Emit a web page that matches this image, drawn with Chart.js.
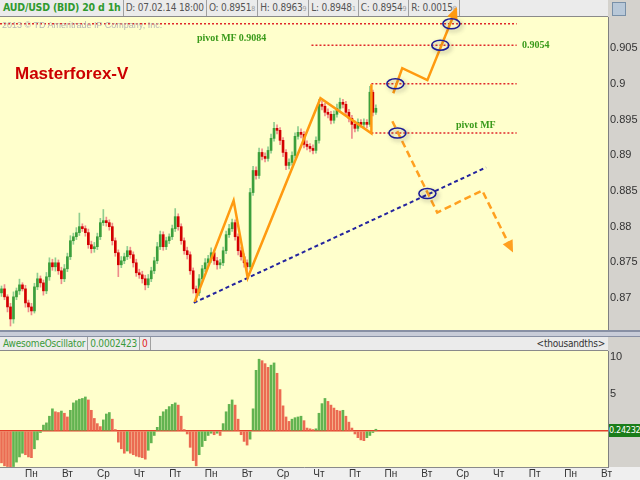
<!DOCTYPE html>
<html>
<head>
<meta charset="utf-8">
<script src="https://cdn.jsdelivr.net/npm/chart.js@4.4.1/dist/chart.umd.min.js"></script>
<style>
  body { margin: 0; width: 640px; height: 480px; overflow: hidden; background: #d4d2cd; position: relative; font-family: Arial, "Liberation Sans", sans-serif; }
  .abs { position: absolute; }
  .bar { background: #ebebeb; border-bottom: 1px solid #8a8a8a; display: flex; font-family: "DejaVu Sans Condensed", Arial, sans-serif; font-size: 10px; color: #555; white-space: nowrap; box-sizing: border-box; letter-spacing: -0.2px; }
  .bar span.cell { border-right: 1px solid #a0a0a0; padding: 0 2px; line-height: 15px; box-sizing: border-box; flex-shrink: 0; }
  .sub { font-size: 7px; color: #999; }
  .pv { font-family: "Liberation Serif", "DejaVu Serif", serif; font-weight: bold; font-size: 10px; color: #3a9a1a; white-space: nowrap; }
</style>
</head>
<body>
<!-- шапка графика -->
<div class="abs bar" style="left:0;top:0;width:608px;height:17px;z-index:1">
  <span class="cell" style="color:#2f9a2f;font-weight:bold;min-width:95px;font-size:10.5px;padding-left:3px">AUD/USD (BID) 20 d 1h</span>
  <span class="cell" style="min-width:67px">D: 07.02.14 18:00</span>
  <span class="cell" style="min-width:45px">O: 0.8951<span class="sub">8</span></span>
  <span class="cell" style="min-width:45px">H: 0.8963<span class="sub">9</span></span>
  <span class="cell" style="min-width:43px">L: 0.8948<span class="sub">1</span></span>
  <span class="cell" style="min-width:42px">C: 0.8954<span class="sub">9</span></span>
  <span class="cell" style="min-width:45px">R: 0.0015<span class="sub">8</span></span>
</div>
<div class="abs" style="left:612px;top:2px;width:12px;height:12px;background:#b8c8d8;border:1px solid #7890a8"></div>

<div class="abs" style="left:0;top:0;width:640px;height:330px;z-index:2"><canvas id="priceChart" width="640" height="330"></canvas></div>

<div class="abs" style="left:0;top:330px;width:640px;height:4px;background:#c8ccd8;border-top:2px solid #8890a4;border-bottom:1px solid #8890a4"></div>

<div class="abs bar" style="left:0;top:337px;width:608px;height:14px;z-index:1">
  <span class="cell" style="color:#3a9a3a;line-height:13px;padding-left:3px">AwesomeOscillator</span>
  <span class="cell" style="color:#3a9a3a;line-height:13px">0.0002423</span>
  <span class="cell" style="color:#e02020;line-height:13px">0</span>
  <span style="margin-left:auto;padding-right:3px;line-height:13px;color:#333">&lt;thousandths&gt;</span>
</div>
<div class="abs" style="left:0;top:467px;width:640px;height:13px;background:#efefef"></div>
<div class="abs" style="left:0;top:351px;width:640px;height:129px;z-index:2"><canvas id="aoChart" width="640" height="129"></canvas></div>
<div class="abs" style="left:609px;top:424px;width:31px;height:13px;background:#1a7d1a;color:#fff;font-family:'DejaVu Sans Condensed',Arial,sans-serif;font-size:9px;letter-spacing:-0.3px;line-height:13px;z-index:3;overflow:hidden;white-space:nowrap">0.24232</div>

<!-- подписи -->
<div class="abs" style="left:2px;top:20px;font-size:9px;color:#b5b5b5;z-index:3;white-space:nowrap">2013 © TD Ameritrade IP Company, Inc.</div>
<div class="abs pv" style="left:197px;top:32px;z-index:3">pivot MF 0.9084</div>
<div class="abs pv" style="left:522px;top:39px;z-index:3">0.9054</div>
<div class="abs pv" style="left:456px;top:119px;z-index:3">pivot MF</div>
<div class="abs" style="left:15px;top:64px;font-size:17px;font-weight:bold;color:#cc0000;z-index:3;white-space:nowrap">Masterforex-V</div>

<script>
// свечи 2ч (индекс = слот по оси X)
const opens = [
0.87073, 0.87129, 0.87017, 0.86876, 0.86708, 0.87017, 0.87101, 0.87185, 0.87129, 0.86932,
0.86876, 0.86820, 0.87157, 0.87270, 0.87213, 0.87101, 0.87298, 0.87494, 0.87438, 0.87494,
0.87382, 0.87270, 0.87410, 0.87579, 0.87803, 0.87859, 0.87916, 0.88000, 0.87972, 0.87916,
0.87747, 0.87691, 0.87719, 0.87859, 0.88056, 0.88084, 0.88056, 0.88000, 0.87803, 0.87635,
0.87466, 0.87522, 0.87579, 0.87663, 0.87607, 0.87494, 0.87354, 0.87326, 0.87270, 0.87185,
0.87270, 0.87382, 0.87522, 0.87719, 0.87888, 0.87719, 0.87803, 0.87859, 0.87972, 0.88140,
0.88000, 0.87803, 0.87663, 0.87607, 0.87382, 0.87129, 0.87073, 0.87270, 0.87410, 0.87494,
0.87550, 0.87635, 0.87522, 0.87466, 0.87494, 0.87663, 0.87888, 0.87972, 0.88056, 0.87859,
0.87663, 0.87579, 0.87494, 0.87438, 0.88477, 0.88786, 0.88716, 0.89039, 0.88983, 0.88955,
0.89067, 0.89236, 0.89376, 0.89348, 0.89208, 0.89039, 0.88857, 0.88899, 0.88997, 0.89264,
0.89320, 0.89292, 0.89152, 0.89123, 0.89095, 0.89067, 0.89208, 0.89713, 0.89685, 0.89601,
0.89573, 0.89489, 0.89573, 0.89657, 0.89741, 0.89713, 0.89601, 0.89517, 0.89432, 0.89376,
0.89460, 0.89432, 0.89460, 0.89432, 0.89882, 0.89601
];
const highs = [
0.87169, 0.87189, 0.87047, 0.86926, 0.87087, 0.87141, 0.87265, 0.87215, 0.87179, 0.86972,
0.86926, 0.87207, 0.87350, 0.87310, 0.87253, 0.87358, 0.87564, 0.87544, 0.87564, 0.87534,
0.87432, 0.87470, 0.87629, 0.87873, 0.87909, 0.87986, 0.88190, 0.88040, 0.88012, 0.87966,
0.87797, 0.87779, 0.87909, 0.88116, 0.88240, 0.88134, 0.88096, 0.88050, 0.87843, 0.87675,
0.87582, 0.87629, 0.87723, 0.87713, 0.87647, 0.87544, 0.87404, 0.87376, 0.87320, 0.87330,
0.87432, 0.87572, 0.87779, 0.87938, 0.87928, 0.87853, 0.87899, 0.88022, 0.88253, 0.88180,
0.88040, 0.87843, 0.87713, 0.87647, 0.87422, 0.87169, 0.87330, 0.87460, 0.87554, 0.87600,
0.87705, 0.87675, 0.87572, 0.87544, 0.87713, 0.87938, 0.88032, 0.88106, 0.88096, 0.87899,
0.87713, 0.87619, 0.87534, 0.88537, 0.88846, 0.88836, 0.89099, 0.89089, 0.89033, 0.89117,
0.89296, 0.89460, 0.89426, 0.89388, 0.89248, 0.89079, 0.88949, 0.89047, 0.89314, 0.89400,
0.89370, 0.89332, 0.89202, 0.89163, 0.89145, 0.89258, 0.89783, 0.89763, 0.89725, 0.89651,
0.89613, 0.89623, 0.89717, 0.89800, 0.89781, 0.89753, 0.89641, 0.89557, 0.89482, 0.89510,
0.89500, 0.89510, 0.89500, 0.89966, 0.89912, 0.89707
];
const lows = [
0.87023, 0.86977, 0.86806, 0.86609, 0.86648, 0.86977, 0.87051, 0.87099, 0.86872, 0.86806,
0.86764, 0.86790, 0.87117, 0.87153, 0.87041, 0.87061, 0.87248, 0.87388, 0.87378, 0.87332,
0.87200, 0.87230, 0.87370, 0.87539, 0.87753, 0.87819, 0.87876, 0.87932, 0.87866, 0.87697,
0.87631, 0.87641, 0.87679, 0.87819, 0.88016, 0.88006, 0.87950, 0.87743, 0.87585, 0.87300,
0.87426, 0.87482, 0.87539, 0.87557, 0.87434, 0.87304, 0.87276, 0.87210, 0.87115, 0.87145,
0.87230, 0.87342, 0.87482, 0.87679, 0.87669, 0.87679, 0.87763, 0.87819, 0.87932, 0.87950,
0.87753, 0.87613, 0.87547, 0.87332, 0.87069, 0.86960, 0.87033, 0.87230, 0.87370, 0.87444,
0.87500, 0.87472, 0.87406, 0.87416, 0.87454, 0.87623, 0.87848, 0.87932, 0.87809, 0.87603,
0.87529, 0.87434, 0.87354, 0.87408, 0.88437, 0.88666, 0.88676, 0.88933, 0.88905, 0.88915,
0.89027, 0.89196, 0.89298, 0.89148, 0.88979, 0.88797, 0.88807, 0.88859, 0.88957, 0.89224,
0.89242, 0.89102, 0.89073, 0.89045, 0.89017, 0.89027, 0.89168, 0.89635, 0.89551, 0.89523,
0.89439, 0.89449, 0.89533, 0.89617, 0.89663, 0.89551, 0.89467, 0.89236, 0.89326, 0.89336,
0.89392, 0.89392, 0.89382, 0.89402, 0.89551, 0.89571
];
const closes = [
0.87129, 0.87017, 0.86876, 0.86708, 0.87017, 0.87101, 0.87185, 0.87129, 0.86932, 0.86876,
0.86820, 0.87157, 0.87270, 0.87213, 0.87101, 0.87298, 0.87494, 0.87438, 0.87494, 0.87382,
0.87270, 0.87410, 0.87579, 0.87803, 0.87859, 0.87916, 0.88000, 0.87972, 0.87916, 0.87747,
0.87691, 0.87719, 0.87859, 0.88056, 0.88084, 0.88056, 0.88000, 0.87803, 0.87635, 0.87466,
0.87522, 0.87579, 0.87663, 0.87607, 0.87494, 0.87354, 0.87326, 0.87270, 0.87185, 0.87270,
0.87382, 0.87522, 0.87719, 0.87888, 0.87719, 0.87803, 0.87859, 0.87972, 0.88140, 0.88000,
0.87803, 0.87663, 0.87607, 0.87382, 0.87129, 0.87073, 0.87270, 0.87410, 0.87494, 0.87550,
0.87635, 0.87522, 0.87466, 0.87494, 0.87663, 0.87888, 0.87972, 0.88056, 0.87859, 0.87663,
0.87579, 0.87494, 0.87438, 0.88477, 0.88786, 0.88716, 0.89039, 0.88983, 0.88955, 0.89067,
0.89236, 0.89376, 0.89348, 0.89208, 0.89039, 0.88857, 0.88899, 0.88997, 0.89264, 0.89320,
0.89292, 0.89152, 0.89123, 0.89095, 0.89067, 0.89208, 0.89713, 0.89685, 0.89601, 0.89573,
0.89489, 0.89573, 0.89657, 0.89741, 0.89713, 0.89601, 0.89517, 0.89432, 0.89376, 0.89460,
0.89432, 0.89460, 0.89432, 0.89882, 0.89601, 0.89657
];

// Awesome Oscillator, тысячные
const aoValues = [
-4.3, -4.7, -4.8, -4.9, -4.8, -4.2, -3.5, -3.0, -3.2, -3.5,
-3.6, -2.4, -1.2, -0.2, 0.8, 1.1, 2.0, 3.0, 2.6, 2.5,
2.7, 2.4, 1.9, 2.8, 3.8, 4.1, 4.3, 4.4, 4.6, 4.2,
2.8, 1.7, 1.0, 0.6, 1.5, 2.3, 2.5, 1.6, 0.2, -1.5,
-2.4, -3.0, -2.7, -3.0, -3.2, -3.4, -3.5, -3.6, -3.8, -2.6,
-1.6, -0.6, 0.5, 2.0, 2.6, 2.9, 3.3, 3.6, 3.8, 3.5,
2.0, 0.2, -0.4, -2.2, -4.0, -4.7, -3.2, -2.1, -1.3, -0.6,
-0.3, -0.5, -0.3, -0.6, 1.0, 2.6, 3.6, 4.2, 3.5, 1.6,
-0.5, -1.4, -1.9, -1.1, 3.0, 8.2, 9.7, 9.5, 9.1, 8.6,
8.9, 9.2, 7.8, 5.6, 3.4, 1.9, 1.3, 1.6, 1.8, 1.9,
2.0, 1.4, 0.4, 0.3, 0.2, 0.3, 2.4, 3.7, 4.4, 4.0,
3.5, 3.1, 2.8, 2.7, 2.8, 2.0, 1.2, 0.4, -0.4, -0.9,
-1.2, -1.3, -0.9, -0.6, -0.2, 0.24
];

const priceTicks = [0.87, 0.875, 0.88, 0.885, 0.89, 0.895, 0.9, 0.905];
const aoTicks = [0, 5, 10];
const dayTicks = [10, 22, 34, 46, 58, 70, 82, 94, 106, 118, 130, 142, 154, 166, 178, 190, 202];
const dayNames = ['Пн', 'Вт', 'Ср', 'Чт', 'Пт', 'Пн', 'Вт', 'Ср', 'Чт', 'Пт', 'Пн', 'Вт', 'Ср', 'Чт', 'Пт', 'Пн', 'Вт'];

// разметка MF
const pivotLevels = [0.9084, 0.9054, 0.9000, 0.8931];
const pivotStart = [-0.5, 103.5, 123.5, 123.5];
const pivotEnd = [172, 172, 172, 172];
const zigX = [64.5, 77.5, 82.2, 106.5, 123.5, 123.5];
const zigY = [0.86947, 0.88365, 0.87284, 0.89798, 0.89306, 0.89994];
const upX = [130.8, 133.8, 142.2, 151.8];
const upY = [0.89868, 0.90219, 0.90051, 0.91048];
const downX = [130.5, 145.5, 160.5, 170.5];
const downY = [0.89475, 0.88197, 0.88506, 0.87663];
const trendX = [64.2, 161.8];
const trendY = [0.86933, 0.88829];
const ellX = [150.2, 146.5, 131.5, 132.2, 142.2];
const ellY = [0.9084, 0.9054, 0.9000, 0.8931, 0.88463];

const pts = (xs, ys) => xs.map((x, i) => ({x, y: ys[i]}));
const isUp = closes.map((c, i) => c >= opens[i]);

// без полей под подписи крайних тиков
const noPad = s => { s.paddingTop = 0; s.paddingBottom = 0; s.paddingLeft = 0; s.paddingRight = 0; };

const bgPlugin = {
    id: 'bg',
    beforeDraw(chart) {
        const {ctx, chartArea: a} = chart;
        ctx.save();
        ctx.fillStyle = '#ffffcc';
        ctx.fillRect(a.left, a.top, a.right - a.left, a.bottom - a.top);
        ctx.restore();
    }
};

const marksPlugin = {
    id: 'marks',
    afterDatasetsDraw(chart) {
        const ctx = chart.ctx;
        const xs = chart.scales.x, ys = chart.scales.y;
        // наконечники стрелок
        chart.data.datasets.forEach((ds, i) => {
            if (!ds.arrowHead) return;
            const el = chart.getDatasetMeta(i).data;
            const p1 = el[el.length - 2], p2 = el[el.length - 1];
            const ang = Math.atan2(p2.y - p1.y, p2.x - p1.x);
            ctx.save();
            ctx.translate(p2.x, p2.y);
            ctx.rotate(ang);
            ctx.fillStyle = ds.borderColor;
            ctx.beginPath();
            ctx.moveTo(2, 0);
            ctx.lineTo(-10, -5.5);
            ctx.lineTo(-10, 5.5);
            ctx.closePath();
            ctx.fill();
            ctx.restore();
        });
        // овалы на уровнях
        ellX.forEach((x, i) => {
            const px = xs.getPixelForValue(x), py = ys.getPixelForValue(ellY[i]);
            ctx.save();
            ctx.shadowColor = 'rgba(60,60,60,0.45)';
            ctx.shadowBlur = 4;
            ctx.shadowOffsetX = 2;
            ctx.shadowOffsetY = 2;
            ctx.strokeStyle = '#1c1c96';
            ctx.lineWidth = 1.6;
            ctx.beginPath();
            ctx.ellipse(px, py, 8.5, 5, 0, 0, Math.PI * 2);
            ctx.stroke();
            ctx.restore();
        });
    }
};

const lineDs = (data, color, width, dash, extra) => Object.assign({
    type: 'line', data, borderColor: color, backgroundColor: color, borderWidth: width,
    borderDash: dash, pointRadius: 0, fill: false, tension: 0, order: 1
}, extra || {});

const pivotSets = pivotLevels.map((lv, i) =>
    lineDs([{x: pivotStart[i], y: lv}, {x: pivotEnd[i], y: lv}], '#e0282a', 1.5, [2, 2], {order: 3}));

new Chart(document.getElementById('priceChart'), {
    type: 'bar',
    data: {
        datasets: [
            ...pivotSets,
            lineDs(pts(trendX, trendY), '#23239e', 2, [4, 3], {order: 2}),
            lineDs(pts(zigX, zigY), '#ff9a10', 2.5, []),
            lineDs(pts(upX, upY), '#ff9a10', 2.5, [], {clip: false, arrowHead: true}),
            lineDs(pts(downX, downY), '#ffa020', 2.5, [7, 4], {arrowHead: true}),
            {
                label: 'body',
                data: opens.map((o, i) => ({x: i, y: [o, closes[i]]})),
                backgroundColor: isUp.map(u => u ? '#3c9f3c' : '#d30000'),
                barThickness: 2, minBarLength: 1, grouped: false, order: 5
            },
            {
                label: 'wick',
                data: lows.map((l, i) => ({x: i, y: [l, highs[i]]})),
                backgroundColor: isUp.map(u => u ? '#8fcd8f' : '#ee8c8c'),
                barThickness: 1, grouped: false, order: 6
            }
        ]
    },
    options: {
        responsive: false,
        animation: false,
        layout: {padding: {top: 17, left: 0, right: 0, bottom: 0}},
        plugins: {legend: {display: false}, tooltip: {enabled: false}},
        scales: {
            x: {type: 'linear', min: -0.5, max: 202.5, offset: false, display: false},
            y: {
                position: 'right', min: 0.86553, max: 0.90935,
                afterBuildTicks: s => { s.ticks = priceTicks.map(v => ({value: v})); },
                afterFit: s => { s.width = 32; noPad(s); },
                grid: {display: false, drawTicks: false},
                border: {color: '#7f7f7f'},
                ticks: {
                    padding: 2, color: '#333', font: {size: 11, family: 'Arial'},
                    callback: v => String(+v.toFixed(3))
                }
            }
        }
    },
    plugins: [bgPlugin, marksPlugin]
});

new Chart(document.getElementById('aoChart'), {
    type: 'bar',
    data: {
        datasets: [{
            data: aoValues.map((v, i) => ({x: i, y: v})),
            backgroundColor: aoValues.map((v, i) => (i > 0 && v > aoValues[i - 1]) ? '#62b350' : '#eb6b52'),
            barThickness: 2, grouped: false
        }]
    },
    options: {
        responsive: false,
        animation: false,
        layout: {padding: 0},
        plugins: {legend: {display: false}, tooltip: {enabled: false}},
        scales: {
            x: {
                type: 'linear', min: -0.5, max: 202.5, offset: false,
                afterBuildTicks: s => { s.ticks = dayTicks.map(v => ({value: v})); },
                afterFit: s => { s.height = 13; noPad(s); },
                grid: {display: false, drawTicks: false},
                border: {color: '#8a8a8a'},
                ticks: {
                    padding: 1, maxRotation: 0, autoSkip: false, color: '#333',
                    font: {size: 10, family: 'Arial'},
                    callback: (v, idx) => dayNames[idx]
                }
            },
            y: {
                position: 'right', min: -4.86, max: 10.81,
                afterBuildTicks: s => { s.ticks = aoTicks.map(v => ({value: v})); },
                afterFit: s => { s.width = 32; noPad(s); },
                grid: {
                    drawTicks: false,
                    color: c => c.tick && c.tick.value === 0 ? '#e2402a' : 'rgba(0,0,0,0)',
                    lineWidth: 1.5
                },
                border: {color: '#7f7f7f'},
                ticks: {
                    padding: 2, color: '#333', font: {size: 11, family: 'Arial'},
                    callback: v => v === 0 ? '' : String(v)
                }
            }
        }
    },
    plugins: [bgPlugin]
});
</script>
</body>
</html>
